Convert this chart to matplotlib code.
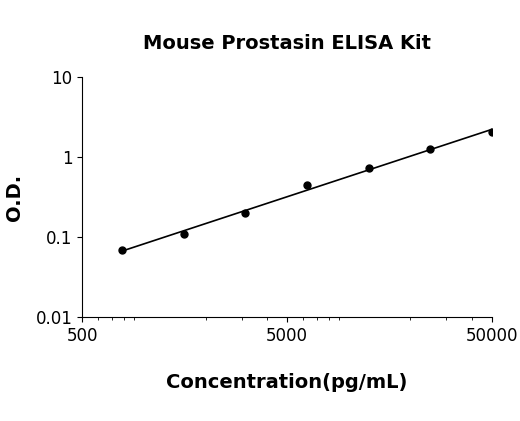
import matplotlib
matplotlib.use('Agg')
import matplotlib.pyplot as plt
import numpy as np
from matplotlib.ticker import FixedLocator, FixedFormatter, NullFormatter, NullLocator

# standard curve values
conc = [781.25, 1562.5, 3125, 6250, 12500, 25000, 50000]
od = [0.068, 0.11, 0.2, 0.45, 0.72, 1.25, 2.05]

fig = plt.figure(figsize=(5.2, 4.21), dpi=100)
ax = fig.add_axes([0.158, 0.247, 0.788, 0.570])

# power fit in log space
k, b = np.polyfit(np.log10(conc), np.log10(od), 1)
xs = np.logspace(np.log10(conc[0]), np.log10(conc[-1]), 100)
ax.plot(xs, 10 ** (k * np.log10(xs) + b), color='black', lw=1.2)
ax.plot(conc, od, 'o', color='black', ms=5)

ax.set_xscale('log')
ax.set_yscale('log')
ax.set_xlim(500, 50000)
ax.set_ylim(0.01, 10)
ax.xaxis.set_major_locator(FixedLocator([500, 5000, 50000]))
ax.xaxis.set_major_formatter(FixedFormatter(['500', '5000', '50000']))
ax.xaxis.set_minor_formatter(NullFormatter())
ax.set_yticks([0.01, 0.1, 1, 10])
ax.set_yticklabels(['0.01', '0.1', '1', '10'])
ax.yaxis.set_minor_locator(NullLocator())
ax.tick_params(labelsize=12)
ax.spines['top'].set_visible(False)
ax.spines['right'].set_visible(False)

ax.set_title('Mouse Prostasin ELISA Kit', fontsize=14, fontweight='bold', pad=20)
ax.set_xlabel('Concentration(pg/mL)', fontsize=14, fontweight='bold', labelpad=20)
ax.set_ylabel('O.D.', fontsize=14, fontweight='bold', labelpad=8)

fig.savefig('out.png', dpi=100)
